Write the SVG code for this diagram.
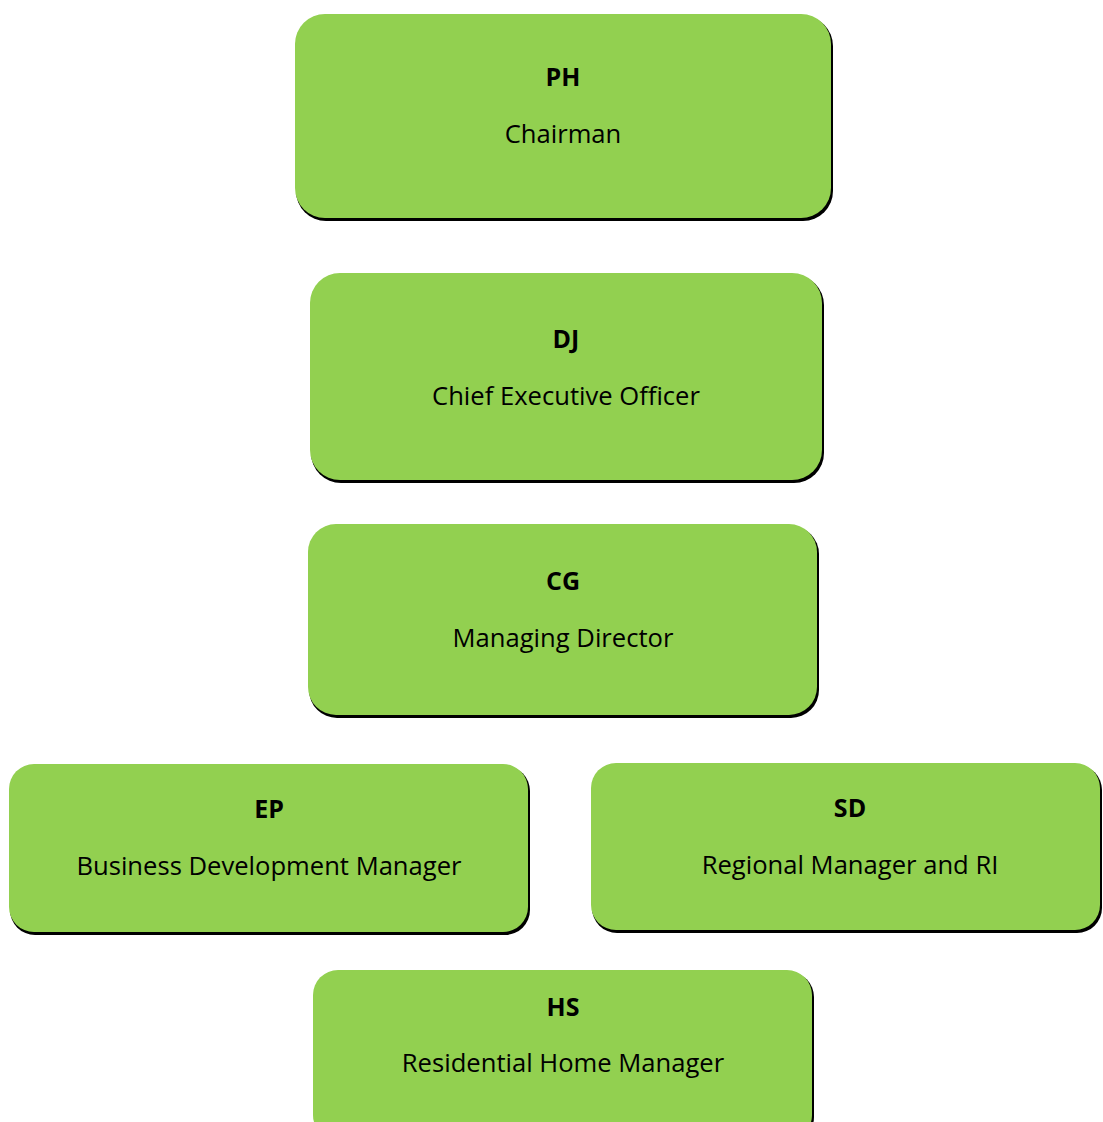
<svg xmlns="http://www.w3.org/2000/svg" width="1103" height="1122" viewBox="0 0 1103 1122">
  <style>
    .shadow { fill: #000000; }
    .box { fill: #92D050; }
    .name { font-family: "Open Sans", "Liberation Sans", sans-serif; font-weight: bold; font-size: 25px; fill: #000000; text-anchor: middle; }
    .role { font-family: "Open Sans", "Liberation Sans", sans-serif; font-size: 25.6px; fill: #000000; text-anchor: middle; }
  </style>
  <rect width="1103" height="1122" fill="#ffffff"/>

  <g id="node-ph">
    <rect class="shadow" x="296" y="16" width="537" height="205" rx="30"/>
    <rect class="box" x="295" y="14" width="536" height="204" rx="30"/>
    <text class="name" x="563" y="86">PH</text>
    <text class="role" x="563" y="143">Chairman</text>
  </g>

  <g id="node-dj">
    <rect class="shadow" x="311" y="275" width="513" height="208" rx="30"/>
    <rect class="box" x="310" y="273" width="512" height="207" rx="30"/>
    <text class="name" x="566" y="348">DJ</text>
    <text class="role" x="566" y="405">Chief Executive Officer</text>
  </g>

  <g id="node-cg">
    <rect class="shadow" x="309" y="526" width="510" height="192" rx="28"/>
    <rect class="box" x="308" y="524" width="509" height="191" rx="28"/>
    <text class="name" x="563" y="590">CG</text>
    <text class="role" x="563" y="647">Managing Director</text>
  </g>

  <g id="node-ep">
    <rect class="shadow" x="10" y="766" width="520" height="169" rx="25"/>
    <rect class="box" x="9" y="764" width="519" height="168" rx="25"/>
    <text class="name" x="269" y="818">EP</text>
    <text class="role" x="269" y="875">Business Development Manager</text>
  </g>

  <g id="node-sd">
    <rect class="shadow" x="592" y="765" width="510" height="168" rx="25"/>
    <rect class="box" x="591" y="763" width="509" height="167" rx="25"/>
    <text class="name" x="850" y="817">SD</text>
    <text class="role" x="850" y="874">Regional Manager and RI</text>
  </g>

  <g id="node-hs">
    <rect class="shadow" x="314" y="972" width="500" height="170" rx="25"/>
    <rect class="box" x="313" y="970" width="499" height="170" rx="25"/>
    <text class="name" x="563" y="1016">HS</text>
    <text class="role" x="563" y="1072">Residential Home Manager</text>
  </g>

  <g id="connectors"></g>
</svg>
